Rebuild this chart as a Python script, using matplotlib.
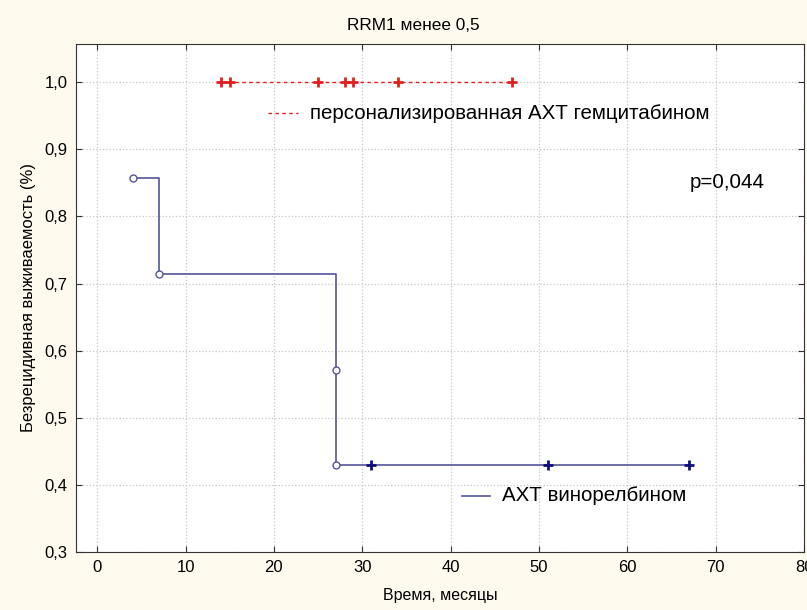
import numpy as np
import matplotlib.pyplot as plt

# АХТ винорелбином (Kaplan-Meier steps)
vin_t = [4, 7, 7, 27, 27, 67]
vin_s = [0.857, 0.857, 0.714, 0.714, 0.429, 0.429]
vin_event_t = [4, 7, 27, 27]
vin_event_s = [0.857, 0.714, 0.571, 0.429]
vin_cens_t = [31, 51, 67]
vin_cens_s = [0.429, 0.429, 0.429]

# персонализированная АХТ гемцитабином
gem_t = [14, 47]
gem_s = [1.0, 1.0]
gem_cens_t = [14, 15, 25, 28, 29, 34, 47]
gem_cens_s = [1.0] * 7

xticks = list(range(0, 90, 10))
yticks = [0.3, 0.4, 0.5, 0.6, 0.7, 0.8, 0.9, 1.0]


def main():
    plt.rcParams['font.family'] = ['Liberation Sans', 'DejaVu Sans']
    fig = plt.figure(figsize=(8.07, 6.10), dpi=100, facecolor='#fffaee')
    ax = fig.add_axes([76 / 807, 1 - 552 / 610, 728 / 807, 508 / 610])
    ax.set_facecolor('white')

    blue = '#55559a'
    red = '#e02020'

    ax.plot(vin_t, vin_s, color=blue, lw=1.2)
    ax.plot(vin_event_t, vin_event_s, 'o', ms=5, mfc='white', mec=blue, mew=1.0)
    ax.plot(vin_cens_t, vin_cens_s, '+', ms=7, color='#101080', mew=2)

    ax.plot(gem_t, gem_s, color=red, lw=1, ls=(0, (2.5, 2.5)))
    ax.plot(gem_cens_t, gem_cens_s, '+', ms=7, color=red, mew=2)

    ax.set_xlim(-2.4, 80)
    ax.set_ylim(0.3, 1.057)
    ax.set_xticks(xticks)
    ax.set_yticks(yticks)
    ax.set_xticklabels([str(v) for v in xticks])
    ax.set_yticklabels([('%.1f' % v).replace('.', ',') for v in yticks])
    ax.tick_params(direction='in', length=4, labelsize=12, top=True, right=True,
                   color='#333333')
    ax.tick_params(axis='x', pad=6)
    ax.tick_params(axis='y', pad=6)
    ax.grid(True, color='#c8c8c8', ls=':', lw=0.9)
    for s in ax.spines.values():
        s.set_color('#333333')

    # legend-like annotations
    ax.plot([19.3, 22.7], [0.954, 0.954], color=red, lw=1, ls=(0, (2.5, 2.5)))
    ax.text(24.1, 0.954, 'персонализированная АХТ гемцитабином', fontsize=14.8,
            va='center', ha='left')
    ax.plot([41.3, 44.5], [0.384, 0.384], color=blue, lw=1.2)
    ax.text(45.8, 0.384, 'АХТ винорелбином', fontsize=14.8, va='center', ha='left')
    ax.text(67.1, 0.85, 'p=0,044', fontsize=14.8, va='center', ha='left')

    fig.text(413 / 807, 1 - 25 / 610, 'RRM1 менее 0,5', ha='center', va='center',
             fontsize=12.4)
    ax.set_xlabel('Время, месяцы', fontsize=11.5, labelpad=9)
    ax.set_ylabel('Безрецидивная выживаемость (%)', fontsize=12, labelpad=6)

    fig.savefig('out.png', dpi=100, facecolor=fig.get_facecolor())


if __name__ == '__main__':
    main()
